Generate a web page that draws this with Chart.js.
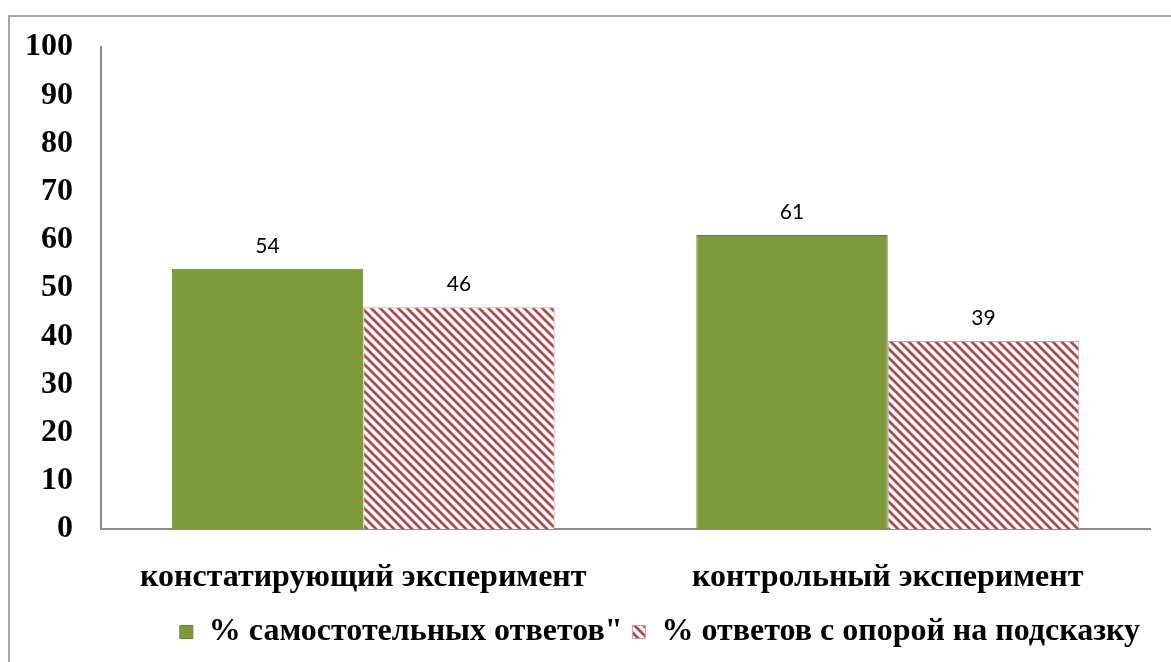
<!DOCTYPE html>
<html>
<head>
<meta charset="utf-8">
<script src="https://cdn.jsdelivr.net/npm/chart.js@4"></script>
<style>
    body { margin: 0; overflow: hidden; background: #fff; }
    #frame { position: absolute; left: 8px; top: 15px; width: 1300px; height: 800px; border: 2px solid #a6a6a6; }
    #wrap { position: absolute; left: 0; top: 0; width: 1171px; height: 662px; }
</style>
</head>
<body>
<div id="frame"></div>
<div id="wrap"><canvas id="chart" width="1171" height="662"></canvas></div>
<script>
// data
const categories = ["констатирующий эксперимент", "контрольный эксперимент"]
const seriesNames = ["% самостотельных ответов\"", "% ответов с опорой на подсказку"]
const independent = [54, 61]
const withHint = [46, 39]
const yTicks = [0, 10, 20, 30, 40, 50, 60, 70, 80, 90, 100]

function makeHatch() {
    const s = 9
    const c = document.createElement("canvas")
    c.width = s
    c.height = s
    const g = c.getContext("2d")
    g.fillStyle = "#fff"
    g.fillRect(0, 0, s, s)
    g.strokeStyle = "#ad4a4e"
    g.lineWidth = 2.8
    g.beginPath()
    g.moveTo(-2, -2); g.lineTo(s + 2, s + 2)
    g.moveTo(s - 3, -3); g.lineTo(s + 3, 3)
    g.moveTo(-3, s - 3); g.lineTo(3, s + 3)
    g.stroke()
    return g.createPattern(c, "repeat")
}

const ctx = document.getElementById("chart").getContext("2d")
const hatch = makeHatch()

const valueLabels = {
    id: "valueLabels",
    afterDatasetsDraw(chart) {
        const c = chart.ctx
        c.save()
        c.font = "21px Lato"
        c.fillStyle = "#000"
        c.textAlign = "center"
        c.textBaseline = "middle"
        chart.data.datasets.forEach((ds, i) => {
            chart.getDatasetMeta(i).data.forEach((bar, j) => {
                c.fillText(ds.data[j], bar.x, bar.y - 23)
            })
        })
        c.restore()
    }
}

const serif = "'Liberation Serif', 'Times New Roman', serif"

new Chart(ctx, {
    type: "bar",
    data: {
        labels: categories,
        datasets: [{
            label: seriesNames[0],
            data: independent,
            backgroundColor: "#7d9b3d",
            borderColor: "#65802e",
            borderWidth: 1
        }, {
            label: seriesNames[1],
            data: withHint,
            backgroundColor: hatch,
            borderColor: "#c9a5a6",
            borderWidth: 1
        }]
    },
    options: {
        responsive: false,
        animation: false,
        categoryPercentage: 0.73,
        barPercentage: 1,
        layout: { padding: { left: 0, right: 21, top: 47, bottom: 4 } },
        plugins: {
            tooltip: { enabled: false },
            legend: {
                position: "bottom",
                align: "end",
                labels: {
                    color: "#000",
                    font: { family: serif, size: 32, weight: "bold" },
                    boxWidth: 13,
                    boxHeight: 13,
                    padding: 10
                }
            }
        },
        scales: {
            x: {
                afterFit(scale) {
                    scale.height = 77
                },
                grid: { display: false, drawTicks: false },
                border: { color: "#8c8c8c", width: 2 },
                ticks: {
                    color: "#000",
                    font: { family: serif, size: 32, weight: "bold" },
                    padding: 30
                }
            },
            y: {
                min: 0,
                max: 100,
                afterBuildTicks(scale) {
                    scale.ticks = yTicks.map(v => ({ value: v }))
                },
                afterFit(scale) {
                    scale.width = 101
                },
                grid: { display: false, drawTicks: false },
                border: { color: "#8c8c8c", width: 2 },
                ticks: {
                    color: "#000",
                    font: { family: serif, size: 32, weight: "bold" },
                    padding: 28
                }
            }
        }
    },
    plugins: [valueLabels]
})
</script>
</body>
</html>
